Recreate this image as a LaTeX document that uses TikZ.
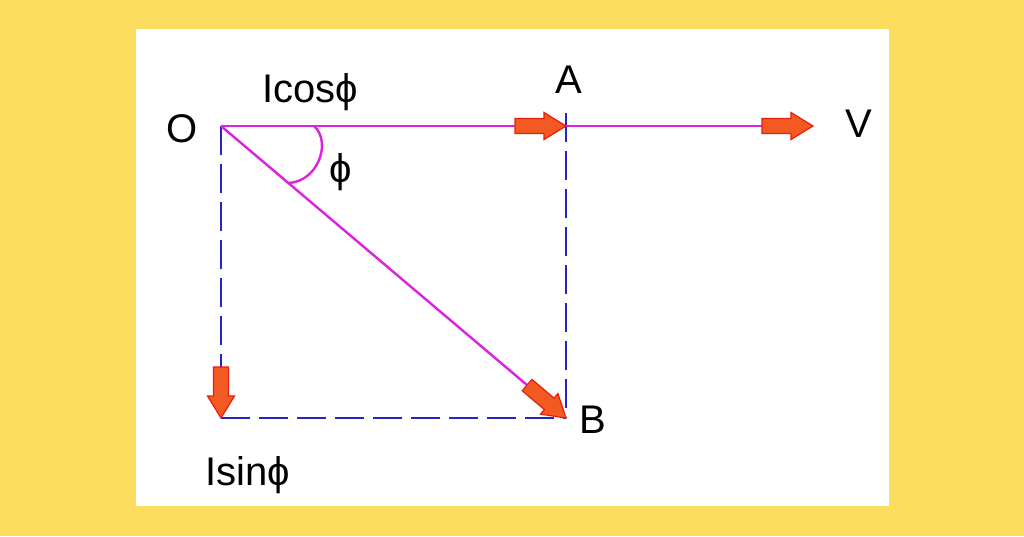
\documentclass[tikz,border=0pt]{standalone}
\usepackage{fontspec}
\setmainfont{Liberation Sans}
\begin{document}
\begin{tikzpicture}[x=1pt,y=-1pt,
  mag/.style={draw=magentaline,line width=2.4pt},
  bluedash/.style={draw=blueline,line width=2.6pt,dash pattern=on 29pt off 9pt},
  lbl/.style={inner sep=0pt,anchor=base,font=\fontsize{40}{44}\selectfont},
  blockarrow/.pic={\filldraw[fill=arrowfill,draw=arrowdraw,line width=1.2pt,line join=miter]
     (-51,-7.5) -- (-22,-7.5) -- (-22,-13.5) -- (0,0) -- (-22,13.5) -- (-22,7.5) -- (-51,7.5) -- cycle;}]
\definecolor{bg}{HTML}{FDDD5E}
\definecolor{magentaline}{HTML}{DD22DD}
\definecolor{blueline}{HTML}{2424C8}
\definecolor{arrowfill}{HTML}{F25A22}
\definecolor{arrowdraw}{HTML}{E81E10}
\fill[bg] (0,0) rectangle (1024,536);
\useasboundingbox (0,0) rectangle (1024,536);
\fill[white] (136,29) rectangle (889,506);
\coordinate (O) at (221,126);
\coordinate (A) at (566,126);
\coordinate (Atop) at (566,113);
\coordinate (B) at (566,418);
\coordinate (C) at (221,418);
\coordinate (V) at (813,126);
% dashed blue
\draw[bluedash] (O) -- (C);
\draw[bluedash] (C) -- (B);
\draw[bluedash] (Atop) -- (B);
% magenta
\draw[mag] (O) -- (V);
\draw[mag] (O) -- (B);
\coordinate (arcS) at (314,126);
\coordinate (arcE) at (288,183);
\draw[magentaline,line width=2.4pt] (arcS) .. controls (332,142) and (318,182) .. (arcE);
% block arrows
\pic[rotate=0] at (A) {blockarrow};
\pic[rotate=0] at (V) {blockarrow};
\pic[rotate=-90] at (C) {blockarrow};
\pic[rotate=-40.2] at (B) {blockarrow};
% labels
\node[lbl] (lO) at (182,142) {O};
\node[lbl] (lA) at (569,93) {A};
\node[lbl] (lV) at (859,137) {V};
\node[lbl] (lB) at (593,433) {B};
\node[lbl] (lcos) at (310,102) {Icos\symbol{"03D5}};
\node[lbl] (lphi) at (341,182) {\symbol{"03D5}};
\node[lbl] (lsin) at (248,485) {Isin\symbol{"03D5}};
\end{tikzpicture}
\end{document}
